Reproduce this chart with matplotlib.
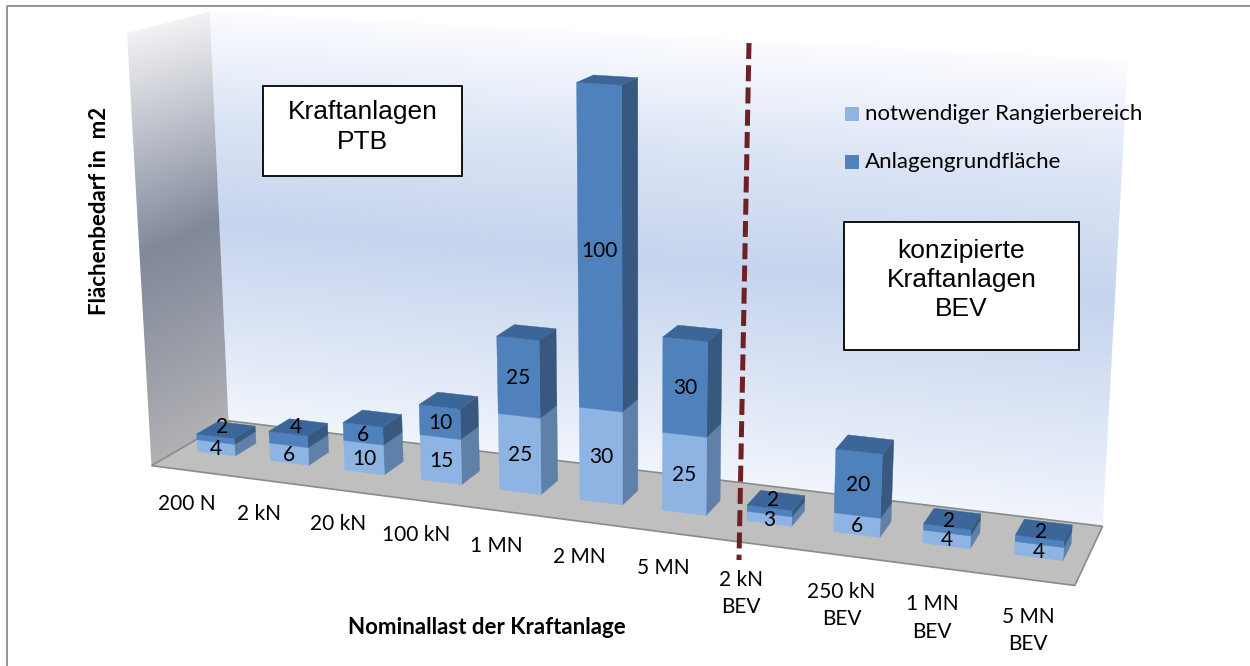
import numpy as np
import matplotlib
matplotlib.use("Agg")
import matplotlib.pyplot as plt
from matplotlib.colors import LinearSegmentedColormap
from matplotlib.patches import Polygon, Rectangle

categories = ["200 N", "2 kN", "20 kN", "100 kN", "1 MN", "2 MN", "5 MN",
              "2 kN\nBEV", "250 kN\nBEV", "1 MN\nBEV", "5 MN\nBEV"]
rangierbereich = [4, 6, 10, 15, 25, 30, 25, 3, 6, 4, 4]
grundflaeche = [2, 4, 6, 10, 25, 100, 30, 2, 20, 2, 2]

# label nudges in px for the thin bars, the rest sit centred on the front face
top_nudge = {0: (7, -12), 1: (7, -12), 7: (4, -11), 9: (2, -9), 10: (2, -9)}
cat_nudge = {1: -3, 7: -9, 8: 2, 9: 1, 10: 3}

# perspective camera of the 3d chart: x = category, y = depth, z = value
CAM = np.array([[69.51795859, 24.89083246, -0.24585935, 197.61736595],
                [3.67648516, -5.33235006, -3.04806725, 451.22192701],
                [-0.01198508, 0.01657902, -0.00038426, 1.0]])
BAR_W = 0.52
X0, X1 = -0.245, 10.755
Y0, Y1 = -1.28, 2.30
ZTOP = 140

LIGHT, LIGHT_SIDE = "#8db4e3", "#5f80a8"
DARK, DARK_SIDE, DARK_TOP = "#4f81bd", "#38587f", "#3c6698"
FLOOR = "#bfbfbf"
CAL = "Lato"


def proj(x, y, z):
    h = CAM @ np.array([x, y, z, 1.0])
    return h[0] / h[2], h[1] / h[2]


def quad(*corners):
    return [proj(*c) for c in corners]


fig = plt.figure(figsize=(12.5, 6.66), dpi=100)
ax = fig.add_axes([0, 0, 1, 1])
ax.set_xlim(0, 1250)
ax.set_ylim(666, 0)
ax.axis("off")

# outer frame, only top and left show
ax.plot([7, 7, 1250], [666, 5.5, 5.5], color="#8c8c8c", lw=1.3)


def wall(corners, cols, fixed_axis, fixed):
    # wall gradient follows z on the wall plane, inverted per pixel
    pts = quad(*corners)
    xs = np.array([p[0] for p in pts])
    ys = np.array([p[1] for p in pts])
    x0, x1 = int(xs.min()) - 2, int(xs.max()) + 3
    y0, y1 = int(ys.min()) - 2, int(ys.max()) + 3
    uu, vv = np.meshgrid(np.arange(x0, x1), np.arange(y0, y1))
    keep = [a for a in range(3) if a != fixed_axis]
    H = CAM[:, keep + [3]] + 0.0
    H[:, 2] = CAM[:, 3] + CAM[:, fixed_axis] * fixed
    Hi = np.linalg.inv(H)
    w = Hi[2, 0] * uu + Hi[2, 1] * vv + Hi[2, 2]
    z = (Hi[1, 0] * uu + Hi[1, 1] * vv + Hi[1, 2]) / w
    cmap = LinearSegmentedColormap.from_list("w", cols)
    im = ax.imshow(z / ZTOP, extent=(x0, x1, y1, y0), cmap=cmap, vmin=0, vmax=1,
                   aspect="auto", interpolation="bilinear", zorder=1)
    clip = Polygon(pts, transform=ax.transData, fc="none", ec="none")
    ax.add_patch(clip)
    im.set_clip_path(clip)
    ax.set_xlim(0, 1250)
    ax.set_ylim(666, 0)


# the wall tops lean a little less than the camera gives
wall([(X0, Y1, 0), (X1, Y1, 0), (X1 - 0.04, Y1, ZTOP), (X0 + 0.05, Y1, ZTOP)],
     [(0, "#f1f5fc"), (0.5, "#c6d4ee"), (0.75, "#dbe4f5"), (0.9, "#eef2fb"), (1, "#fbfcfe")], 1, Y1)
wall([(X0, Y0, 0), (X0, Y1, 0), (X0 + 0.05, Y1, ZTOP), (X0 + 0.05, Y0, ZTOP)],
     [(0, "#b0b1b3"), (0.5, "#80889a"), (1, "#f2f2f4")], 0, X0)

ax.add_patch(Polygon(quad((X0, Y0, 0), (X1, Y0, 0), (X1, Y1, 0), (X0, Y1, 0)),
                     fc=FLOOR, ec="#8a8a8a", lw=1.2, zorder=2))

# bars, left to right, side then front then top
for i, (lo, hi) in enumerate(zip(rangierbereich, grundflaeche)):
    xl, xr = i, i + BAR_W
    segs = [(0, lo, LIGHT, LIGHT_SIDE), (lo, lo + hi, DARK, DARK_SIDE)]
    for z0, z1, front, side in segs:
        ax.add_patch(Polygon(quad((xr, 0, z0), (xr, 1, z0), (xr, 1, z1), (xr, 0, z1)),
                             fc=side, ec=side, lw=0.3, zorder=3))
        ax.add_patch(Polygon(quad((xl, 0, z0), (xr, 0, z0), (xr, 0, z1), (xl, 0, z1)),
                             fc=front, ec=front, lw=0.3, zorder=3))
    ztop = lo + hi
    ax.add_patch(Polygon(quad((xl, 0, ztop), (xr, 0, ztop), (xr, 1, ztop), (xl, 1, ztop)),
                         fc=DARK_TOP, ec=DARK_TOP, lw=0.3, zorder=3))

    u, v = proj(xl + BAR_W / 2, 0, lo / 2)
    ax.text(u, v + 1, str(lo), family=CAL, fontsize=15, ha="center", va="center", zorder=5)
    u, v = proj(xl + BAR_W / 2, 0, lo + hi / 2)
    dx, dy = top_nudge.get(i, (0, 1))
    ax.text(u + dx, v + dy, str(hi), family=CAL, fontsize=15, ha="center", va="center", zorder=5)

    u, v = proj(xl + BAR_W / 2, -1.5, -10)
    ax.text(u + 2 + cat_nudge.get(i, 0), v - 9, categories[i], family=CAL, fontsize=15,
            ha="center", va="top", linespacing=1.45, zorder=5)

# separator between PTB and BEV
ax.plot([749, 739], [43, 560], color="#6e2024", lw=3.6, ls=(0, (3.2, 1.25)),
        dash_capstyle="butt", zorder=4)

# text boxes
for (bx, by, bw, bh), txt, ty in [((263, 86, 199, 90), "Kraftanlagen\nPTB", 127),
                                  ((844, 222, 235, 128), "konzipierte\nKraftanlagen\nBEV", 280)]:
    ax.add_patch(Rectangle((bx, by), bw, bh, fc="white", ec="black", lw=1.3, zorder=4))
    ax.text(bx + bw / 2, ty, txt, family="Liberation Sans", fontsize=19, ha="center",
            va="center", linespacing=1.27, zorder=5)

# legend
for sy, col, label in [(107, LIGHT, "notwendiger Rangierbereich"), (155, DARK, "Anlagengrundfläche")]:
    ax.add_patch(Rectangle((845, sy), 14, 14, fc=col, ec="none", zorder=5))
    ax.text(865, sy + 7, label, family=CAL, fontsize=16, ha="left", va="center", zorder=5)

ax.text(100, 211, "Flächenbedarf in  m2", family=CAL, weight="bold", fontsize=16, rotation=90,
        ha="center", va="center")
ax.text(487, 628, "Nominallast der Kraftanlage", family=CAL, weight="bold", fontsize=16,
        ha="center", va="center")

fig.savefig("out.png", dpi=100)
